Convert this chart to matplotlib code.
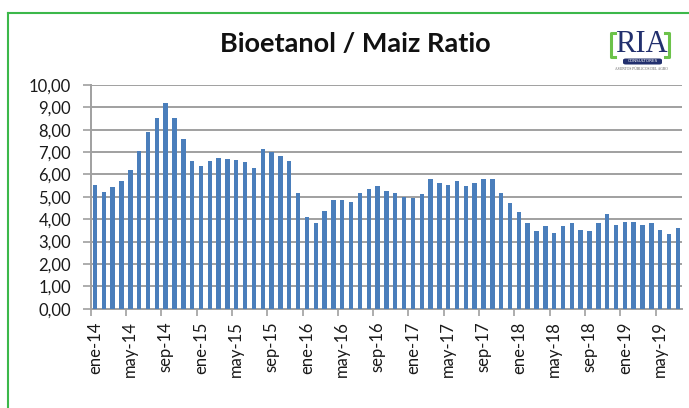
import matplotlib
matplotlib.use("Agg")
import matplotlib.pyplot as plt
from matplotlib.lines import Line2D
from matplotlib.patches import FancyBboxPatch
import numpy as np

# ---- data ----
month_names = ["ene", "feb", "mar", "abr", "may", "jun", "jul", "ago", "sep", "oct", "nov", "dic"]
start_year = 14
n_months = 67
categories = [f"{month_names[i % 12]}-{start_year + i // 12}" for i in range(n_months)]
ratio = [5.55, 5.20, 5.42, 5.69, 6.18, 7.03, 7.88, 8.51, 9.19, 8.51,
         7.58, 6.61, 6.40, 6.61, 6.75, 6.67, 6.63, 6.54, 6.31, 7.16,
         6.99, 6.81, 6.61, 5.19, 4.09, 3.82, 4.36, 4.85, 4.85, 4.78,
         5.19, 5.36, 5.48, 5.28, 5.19, 5.01, 4.94, 5.13, 5.78, 5.63,
         5.55, 5.70, 5.49, 5.63, 5.78, 5.78, 5.15, 4.72, 4.31, 3.81,
         3.46, 3.69, 3.40, 3.69, 3.81, 3.54, 3.46, 3.81, 4.24, 3.75,
         3.88, 3.88, 3.73, 3.81, 3.54, 3.33, 3.61]
yticks = [0, 1, 2, 3, 4, 5, 6, 7, 8, 9, 10]
title = "Bioetanol / Maiz Ratio"

W, H = 689, 408
fig = plt.figure(figsize=(W / 100, H / 100), dpi=100)
fig.patch.set_facecolor("white")

def fx(px):
    return px / W

def fy(py):
    return 1 - py / H

left, right, top, bottom = 90.6, 682.2, 85.0, 308.7
ax = fig.add_axes([fx(left), fy(bottom), fx(right - left), (bottom - top) / H])

x = np.arange(len(ratio))
ax.bar(x, ratio, width=0.5, color="#4a7ebb", zorder=3)

ax.set_xlim(-0.5, len(ratio) - 0.5)
ax.set_ylim(0, 10)
ax.set_yticks(yticks)
ax.set_yticklabels([f"{v:.2f}".replace(".", ",") for v in yticks],
                   fontfamily="Lato", fontsize=12, color="#1a1a1a")
ax.yaxis.grid(True, color="#a0a0a0", linewidth=1.4, zorder=0)
ax.tick_params(axis="y", length=6, width=1.2, color="#a0a0a0", pad=8)

lab_idx = list(range(0, len(ratio), 4))
ax.set_xticks(lab_idx)
ax.set_xticklabels([categories[i] for i in lab_idx], rotation=90,
                   fontfamily="Lato", fontsize=12, color="#1a1a1a")
ax.tick_params(axis="x", length=0, pad=9)
ax.set_xticks([i - 0.5 for i in lab_idx], minor=True)
ax.tick_params(axis="x", which="minor", length=5, width=1.2, color="#a0a0a0")

for s in ["top", "right"]:
    ax.spines[s].set_visible(False)
for s in ["left", "bottom"]:
    ax.spines[s].set_color("#a0a0a0")
    ax.spines[s].set_linewidth(1.4)
ax.set_axisbelow(True)

# title
fig.text(fx(355), fy(44), title, ha="center", va="center",
         fontfamily="Lato", fontweight="bold", fontsize=19.5, color="#111111")

# green frame
fig.add_artist(Line2D([fx(8), fx(8)], [fy(13), 0], color="#3cb84a", linewidth=1.5,
                      transform=fig.transFigure))
fig.add_artist(Line2D([fx(8), 1], [fy(13), fy(13)], color="#3cb84a", linewidth=1.5,
                      transform=fig.transFigure))

# logo
navy = "#22306e"
green = "#6cc24a"
fig.text(fx(641), fy(44), "RIA", ha="center", va="center", fontfamily="Liberation Serif",
         fontsize=22, color=navy)
for xa, xb in [(615, 611), (665, 669)]:
    fig.add_artist(Line2D([fx(xa), fx(xb), fx(xb), fx(xa)], [fy(33), fy(33), fy(57), fy(57)],
                          color=green, linewidth=2.2, transform=fig.transFigure))
pill = FancyBboxPatch((fx(623), fy(64.5)), fx(39), 6 / H, boxstyle="round,pad=0,rounding_size=0.004",
                      transform=fig.transFigure, facecolor=navy, edgecolor="none")
fig.add_artist(pill)
fig.text(fx(642.5), fy(61.3), "CONSULTORES", ha="center", va="center", fontsize=3,
         color="white", fontfamily="DejaVu Sans")
fig.text(fx(641), fy(68.5), "ASUNTOS PÚBLICOS DEL AGRO", ha="center", va="center",
         fontsize=2.6, color="#555555", fontfamily="Liberation Serif")

fig.savefig("out.png", dpi=100, facecolor="white")
